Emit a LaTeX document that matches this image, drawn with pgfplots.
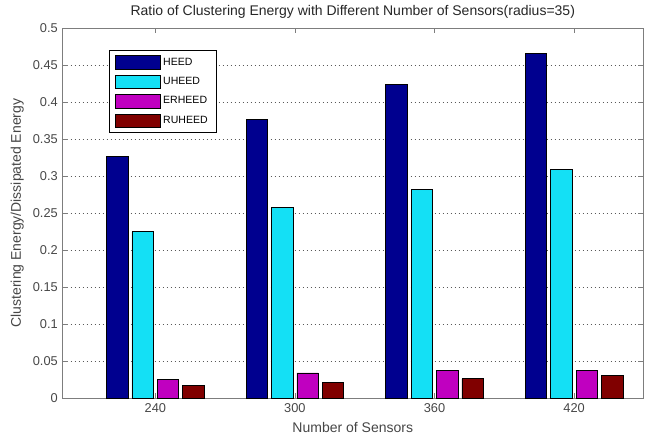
\documentclass[border=0pt]{standalone}
\usepackage{pgfplots}
\pgfplotsset{compat=1.18}
\usepackage{fontspec}
\setmainfont{Liberation Sans}
\definecolor{cHEED}{RGB}{0,0,143}
\definecolor{cUHEED}{RGB}{20,224,245}
\definecolor{cER}{RGB}{192,0,192}
\definecolor{cRU}{RGB}{128,0,0}
\definecolor{axgray}{RGB}{125,125,125}
\definecolor{txtgray}{RGB}{70,70,70}
\begin{document}
\begin{tikzpicture}
\path[use as bounding box] (-46.875pt,-30.75pt) rectangle (439.875pt,298.5pt);
\begin{axis}[
  scale only axis, width=435.4pt, height=277.5pt,
  at={(0,0)}, anchor=south west,
  xmin=-0.665, xmax=3.494, ymin=0, ymax=0.5,
  xtick={0,1,2,3}, xticklabels={240,300,360,420},
  ytick={0,0.05,0.1,0.15,0.2,0.25,0.3,0.35,0.4,0.45,0.5},
  yticklabels={0,0.05,0.1,0.15,0.2,0.25,0.3,0.35,0.4,0.45,0.5},
  xtick pos=both, ytick pos=both,
  tick align=inside, major tick length=3.75pt,
  axis line style={axgray, line width=0.6pt},
  every tick/.style={axgray, line width=0.6pt},
  ymajorgrids,
  major grid style={black!65, line width=0.5pt, dash pattern=on 0.6pt off 2.4pt},
  ticklabel style={font=\fontsize{9.6}{11}\selectfont, text=txtgray},
  xticklabel style={yshift=-1pt},
  label style={font=\fontsize{10.5}{12}\selectfont, text=txtgray},
  title style={font=\fontsize{10.5}{12}\selectfont, text=black!85, yshift=-2.5pt},
  title={Ratio of Clustering Energy with Different Number of Sensors(radius=35)},
  xlabel={Number of Sensors},
  ylabel={Clustering Energy/Dissipated Energy},
  legend style={at={(0.080,0.94)}, anchor=north west, draw=black, fill=white,
    font=\fontsize{7.9}{9}\selectfont, row sep=3.6pt, inner xsep=4.5pt, inner ysep=3.5pt},
  legend cell align=left,
  legend image code/.code={\draw[#1, line width=0.5pt] (0pt,-5pt) rectangle (33.5pt,5pt);},
]
\addplot[ybar, bar width=0.153, bar shift=-0.273, fill=cHEED, draw=black, line width=0.5pt]
  coordinates {(0,0.326) (1,0.376) (2,0.424) (3,0.466)};
\addplot[ybar, bar width=0.153, bar shift=-0.091, fill=cUHEED, draw=black, line width=0.5pt]
  coordinates {(0,0.225) (1,0.258) (2,0.282) (3,0.309)};
\addplot[ybar, bar width=0.153, bar shift=0.091, fill=cER, draw=black, line width=0.5pt]
  coordinates {(0,0.0247) (1,0.0338) (2,0.0369) (3,0.0378)};
\addplot[ybar, bar width=0.153, bar shift=0.273, fill=cRU, draw=black, line width=0.5pt]
  coordinates {(0,0.017) (1,0.0216) (2,0.026) (3,0.0305)};
\legend{HEED,UHEED,ERHEED,RUHEED}
\end{axis}
\end{tikzpicture}
\end{document}
